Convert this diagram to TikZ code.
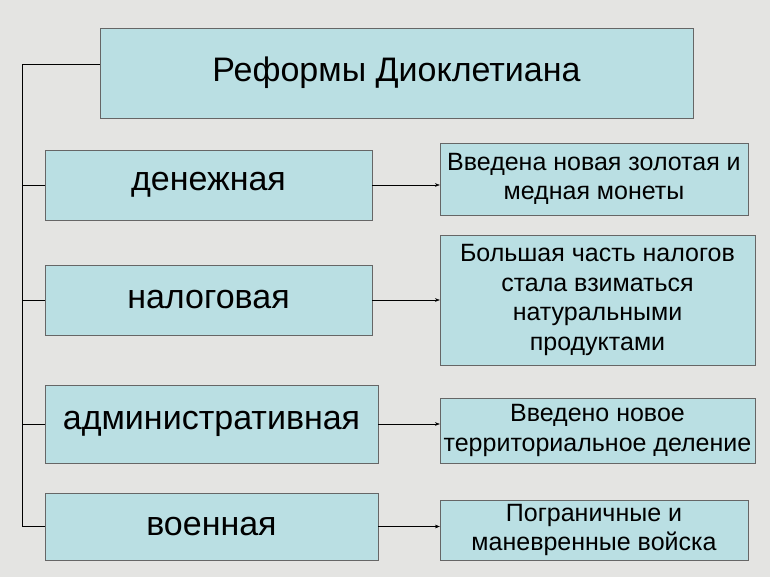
\documentclass[tikz,border=0pt]{standalone}
\usepackage{fontspec}
\setmainfont{Liberation Sans}
\usetikzlibrary{arrows.meta}
\tikzset {>=Stealth}
\definecolor{boxfill}{HTML}{BADFE3}
\definecolor{bg}{HTML}{E4E4E2}
\tikzset{box/.style={draw=black!60,fill=boxfill,inner sep=2pt,align=center,text=black}}
\begin{document}
\begin{tikzpicture}[x=1pt,y=-1pt]
\fill[bg] (0,0) rectangle (770,577);
\useasboundingbox (0,0) rectangle (770,577);
% title
\node[box,minimum width=593pt,minimum height=90pt,font=\fontsize{34}{40}\selectfont] (T) at (396.5,73) {Реформы Диоклетиана};
% kinds of reform
\node[box,minimum width=327pt,minimum height=70pt,font=\fontsize{34}{40}\selectfont] (A) at (208.5,185) {денежная};
\node[box,minimum width=327pt,minimum height=70pt,font=\fontsize{34}{40}\selectfont] (B) at (208.5,300) {налоговая};
\node[box,minimum width=333pt,minimum height=78pt,font=\fontsize{34}{40}\selectfont] (C) at (211.5,424) {административная};
\node[box,minimum width=333pt,minimum height=67pt,font=\fontsize{34}{40}\selectfont] (D) at (211.5,526.5) {военная};
% results
\node[box,minimum width=308pt,minimum height=72pt,font=\fontsize{25}{29.5}\selectfont] (A1) at (594,179) {Введена новая золотая и\\медная монеты};
\node[box,minimum width=315pt,minimum height=130pt,font=\fontsize{25}{29.5}\selectfont] (B1) at (597.5,300) {Большая часть налогов\\стала взиматься\\натуральными\\продуктами};
\node[box,minimum width=315pt,minimum height=65pt,font=\fontsize{25}{29.5}\selectfont] (C1) at (597.5,430.5) {Введено новое\\территориальное деление};
\node[box,minimum width=308pt,minimum height=60pt,font=\fontsize{25}{29.5}\selectfont] (D1) at (594,530) {Пограничные и\\маневренные войска};
% spine
\coordinate (S1) at (22,64);
\coordinate (S2) at (22,526.5);
\draw (T.west |- S1) -- (S1) -- (S2) -- (D.west);
\foreach \n in {A,B,C}
  \draw (\n.west) -- (\n.west -| S1);
\foreach \n in {A,B,C,D}
  \draw[->] (\n.east) -- (\n.east -| \n1.west);
\end{tikzpicture}
\end{document}
